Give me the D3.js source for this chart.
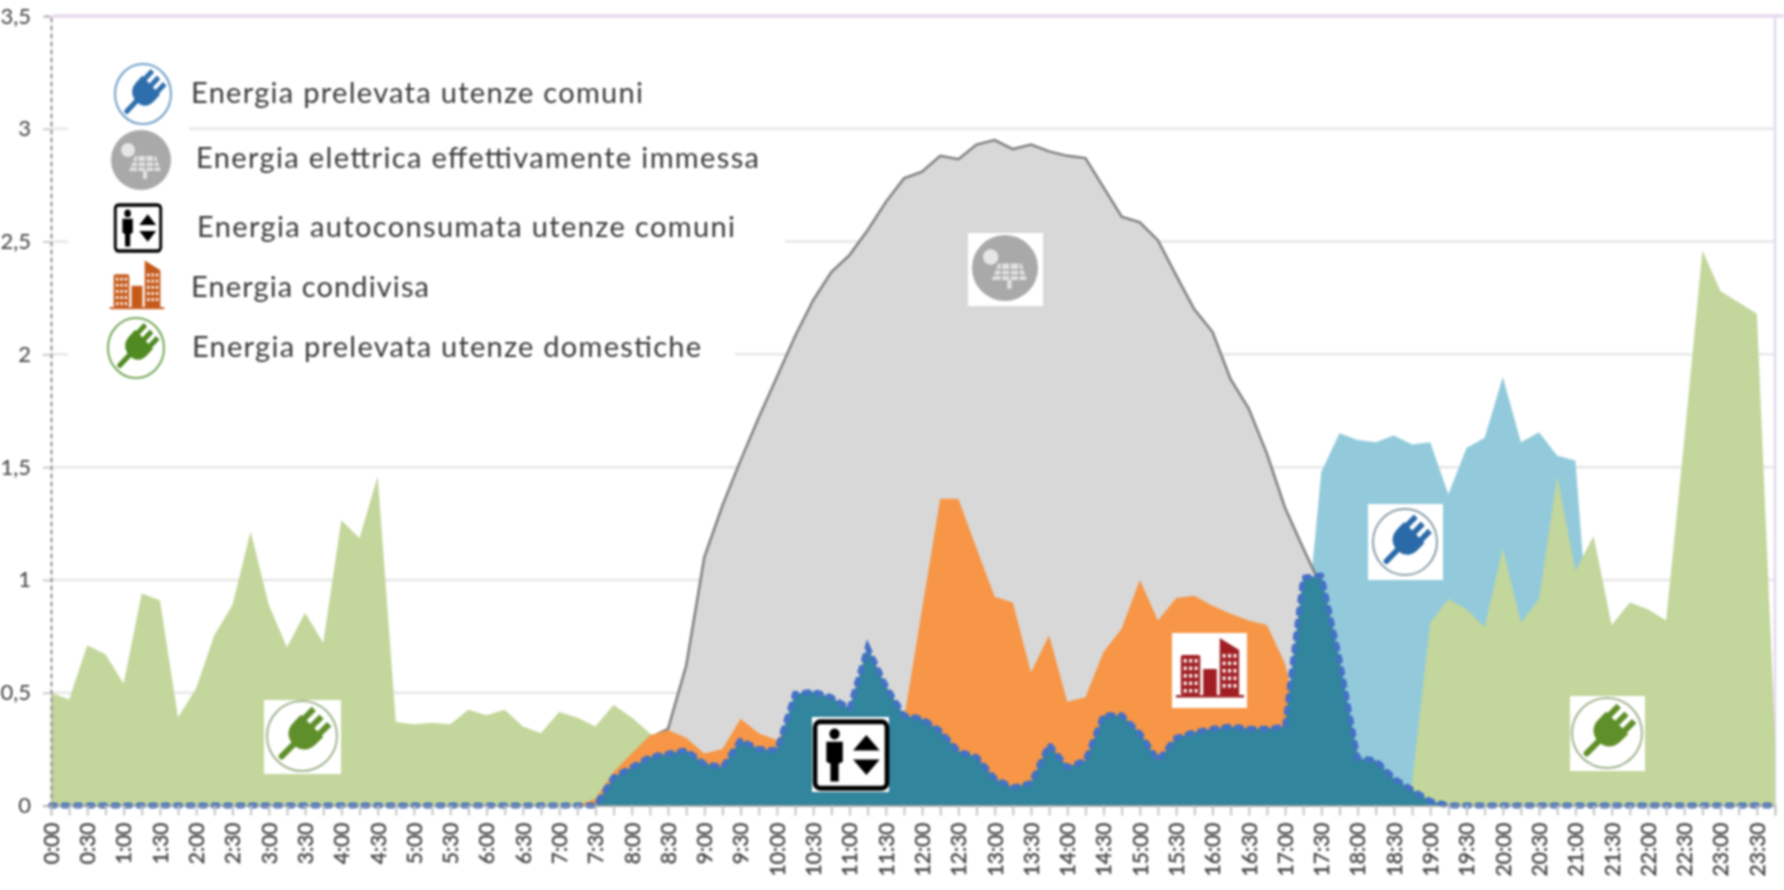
<!DOCTYPE html>
<html>
<head>
<meta charset="utf-8">
<script src="https://cdn.jsdelivr.net/npm/d3@7"></script>
<style>
  html, body { margin: 0; padding: 0; background: #fff; overflow: hidden; }
  svg { display: block; filter: blur(1px); }
  text { font-family: Lato, "Open Sans", sans-serif; }
</style>
</head>
<body>
<svg id="chart" width="1784" height="890"></svg>
<script>
// quarter hours, one label every two
const times = [
  "0:00","0:15","0:30","0:45","1:00","1:15","1:30","1:45","2:00","2:15","2:30","2:45",
  "3:00","3:15","3:30","3:45","4:00","4:15","4:30","4:45","5:00","5:15","5:30","5:45",
  "6:00","6:15","6:30","6:45","7:00","7:15","7:30","7:45","8:00","8:15","8:30","8:45",
  "9:00","9:15","9:30","9:45","10:00","10:15","10:30","10:45","11:00","11:15","11:30","11:45",
  "12:00","12:15","12:30","12:45","13:00","13:15","13:30","13:45","14:00","14:15","14:30","14:45",
  "15:00","15:15","15:30","15:45","16:00","16:15","16:30","16:45","17:00","17:15","17:30","17:45",
  "18:00","18:15","18:30","18:45","19:00","19:15","19:30","19:45","20:00","20:15","20:30","20:45",
  "21:00","21:15","21:30","21:45","22:00","22:15","22:30","22:45","23:00","23:15","23:30","23:45"
];
const yTicks = [0, 0.5, 1, 1.5, 2, 2.5, 3, 3.5];
const yLabels = ["0", "0,5", "1", "1,5", "2", "2,5", "3", "3,5"];

const comuni = [
  0,0,0,0,0,0,0,0,0,0,0,0,0,0,0,0,0,0,0,0,0,0,0,0,
  0,0,0,0,0,0,0,0,0,0,0,0,0,0,0,0,0,0,0,0,0,0,0,0,
  0,0,0,0,0,0,0,0,0,0,0,0,0,0,0,0,0,0,0,0,0,0.63,1.48,1.65,
  1.62,1.61,1.64,1.6,1.61,1.38,1.585,1.63,1.9,1.61,1.655,1.55,1.53,0.48,0,0,0,0,0,0,0,0,0,0
];
const domestiche = [
  0.5,0.47,0.71,0.67,0.54,0.94,0.91,0.39,0.52,0.755,0.89,1.215,
  0.89,0.7,0.855,0.72,1.265,1.185,1.46,0.37,0.36,0.367,0.36,0.425,
  0.4,0.425,0.35,0.32,0.415,0.39,0.35,0.445,0.39,0.32,0.28,0,0,0,0,0,
  0,0,0,0,0,0,0,0,0,0,0,0,0,0,0,0,0,0,0,0,0,0,0,0,
  0,0,0,0,0,0,0,0,0,0,0,0.1,0.81,0.915,0.87,0.79,1.14,0.81,0.915,1.46,
  1.04,1.195,0.8,0.9,0.87,0.82,1.62,2.46,2.28,2.23,2.18,0.3
];
const immessa = [
  0,0,0,0,0,0,0,0,0,0,0,0,0,0,0,0,0,0,0,0,0,0,0,0,
  0,0,0,0,0,0,0,0.1,0.2,0.3,0.34,0.62,1.1,1.33,1.53,1.72,1.9,2.08,2.24,2.365,2.44,2.55,2.675,2.78,
  2.81,2.88,2.865,2.93,2.95,2.91,2.93,2.9,2.88,2.87,2.74,2.61,2.585,2.505,2.35,2.2,2.1,1.89,1.76,1.56,1.32,1.14,0.97,0.6,
  0.2,0.1,0,0,0,0,0,0,0,0,0,0,0,0,0,0,0,0,0,0,0,0,0,0
];
const condivisa = [
  0,0,0,0,0,0,0,0,0,0,0,0,0,0,0,0,0,0,0,0,0,0,0,0,
  0,0,0,0,0,0,0.03,0.15,0.23,0.31,0.335,0.3,0.23,0.25,0.385,0.32,0.29,0.4,0.4,0.4,0.38,0.38,0.38,0.38,
  0.87,1.36,1.36,1.14,0.925,0.9,0.59,0.755,0.46,0.48,0.68,0.785,1,0.82,0.92,0.93,0.885,0.85,0.82,0.8,0.63,0.3,0,0,
  0,0,0,0,0,0,0,0,0,0,0,0,0,0,0,0,0,0,0,0,0,0,0,0
];
const autoconsumata = [
  0,0,0,0,0,0,0,0,0,0,0,0,0,0,0,0,0,0,0,0,0,0,0,0,
  0,0,0,0,0,0,0,0.125,0.17,0.215,0.23,0.245,0.185,0.17,0.29,0.25,0.245,0.495,0.505,0.48,0.43,0.7,0.53,0.4,
  0.385,0.33,0.24,0.215,0.12,0.08,0.1,0.27,0.17,0.2,0.4,0.4,0.32,0.2,0.3,0.325,0.34,0.35,0.34,0.34,0.35,1.01,1.02,0.65,
  0.21,0.2,0.12,0.07,0.02,0,0,0,0,0,0,0,0,0,0,0,0,0,0,0,0,0,0,0
];

const legendNames = [
  "Energia prelevata utenze comuni",
  "Energia elettrica effettivamente immessa",
  "Energia autoconsumata utenze comuni",
  "Energia condivisa",
  "Energia prelevata utenze domestiche"
];

const svg = d3.select("#chart");
const x = d3.scalePoint().domain(times).range([51, 1775]);
const y = d3.scaleLinear().domain([0, 3.5]).range([805.5, 16]);

// grid
svg.append("g").selectAll("line")
  .data(yTicks.slice(1, 7))
  .enter().append("line")
  .attr("x1", 52).attr("x2", 1775)
  .attr("y1", (d) => y(d)).attr("y2", (d) => y(d))
  .attr("stroke", "#e7e7e7").attr("stroke-width", 2.5);

// top and right border of the plot
svg.append("line").attr("x1", 52).attr("x2", 1784).attr("y1", y(3.5)).attr("y2", y(3.5))
  .attr("stroke", "#e4d6ec").attr("stroke-width", 3);
svg.append("line").attr("x1", 1775).attr("x2", 1775).attr("y1", y(3.5)).attr("y2", 806)
  .attr("stroke", "#e4d6ec").attr("stroke-width", 2.5);

// legend boxes hide the grid
svg.append("rect").attr("x", 68).attr("y", 60).attr("width", 121).attr("height", 320).attr("fill", "#fff");
svg.append("rect").attr("x", 189).attr("y", 205).attr("width", 596).attr("height", 50).attr("fill", "#fff");
svg.append("rect").attr("x", 189).attr("y", 330).attr("width", 546).attr("height", 40).attr("fill", "#fff");

const area = d3.area()
  .x((d, i) => x(times[i]))
  .y0(y(0))
  .y1((d) => y(d));
const line = d3.line()
  .x((d, i) => x(times[i]))
  .y((d) => y(d));
const grayLine = d3.line()
  .defined((d) => d > 0)
  .x((d, i) => x(times[i]))
  .y((d) => y(d));

svg.append("path").attr("d", area(comuni)).attr("fill", "#92cadc");
svg.append("path").attr("d", area(domestiche)).attr("fill", "#c3d69b");
svg.append("path").attr("d", area(immessa)).attr("fill", "#d8d8d8");
svg.append("path").attr("d", grayLine(immessa)).attr("fill", "none")
  .attr("stroke", "#7f7f7f").attr("stroke-width", 2.5);
svg.append("path").attr("d", area(condivisa)).attr("fill", "#f79646");
svg.append("path").attr("d", area(autoconsumata)).attr("fill", "#31859c");
svg.append("path").attr("d", line(autoconsumata)).attr("fill", "none")
  .attr("stroke", "#4472c4").attr("stroke-width", 6).attr("stroke-linecap", "round")
  .attr("stroke-dasharray", "4 8.5");

// axes
const xAxis = d3.axisBottom(x)
  .tickSize(10)
  .tickFormat((d, i) => (i % 2 === 0 ? d : ""));
const gx = svg.append("g").attr("transform", "translate(0," + y(0) + ")").call(xAxis);
gx.select(".domain").attr("stroke", "#9a9a9a").attr("stroke-width", 1.5);
gx.selectAll(".tick line").attr("stroke", "#c4c4c4").attr("stroke-width", 2);
gx.selectAll(".tick text")
  .attr("transform", "rotate(-90)")
  .attr("text-anchor", "end")
  .attr("x", -17).attr("y", 0).attr("dy", "0.35em")
  .attr("font-size", 21).attr("font-family", "Lato").attr("fill", "#404040")
  .attr("stroke", "#404040").attr("stroke-width", 0.4);

const yAxis = d3.axisLeft(y)
  .tickValues(yTicks)
  .tickSize(8)
  .tickFormat((d, i) => yLabels[i]);
const gy = svg.append("g").attr("transform", "translate(51,0)").call(yAxis);
gy.select(".domain").attr("stroke", "#8c8c8c").attr("stroke-width", 2).attr("stroke-dasharray", "5 3");
gy.selectAll(".tick line").attr("stroke", "#bdbdbd").attr("stroke-width", 1.5);
gy.selectAll(".tick text")
  .attr("x", -20)
  .attr("font-size", 22).attr("font-family", "Lato").attr("fill", "#404040");

// icons
function plug(cx, cy, rx, ry, color, ring) {
  const g = svg.append("g").attr("transform", "translate(" + cx + "," + cy + ")");
  g.append("ellipse").attr("rx", rx).attr("ry", ry).attr("fill", "#fff")
    .attr("stroke", ring).attr("stroke-width", 2);
  const p = g.append("g").attr("transform", "scale(" + rx / 29 + "," + ry / 29 + ") translate(2,-2) rotate(45)");
  p.append("rect").attr("x", -2.5).attr("y", 4).attr("width", 5).attr("height", 25).attr("rx", 2).attr("fill", color);
  p.append("path").attr("d", "M-13,-9 L13,-9 L13,-1 Q13,12 0,13 Q-13,12 -13,-1 Z").attr("fill", color);
  [-9, 0, 9].forEach((dx) => {
    p.append("rect").attr("x", dx - 2.5).attr("y", -20).attr("width", 5).attr("height", 12).attr("fill", color);
  });
}
function solar(cx, cy, r) {
  const g = svg.append("g").attr("transform", "translate(" + cx + "," + cy + ")");
  g.append("circle").attr("r", r).attr("fill", "#a9a9a9");
  const s = r / 30;
  g.append("circle").attr("cx", -13 * s).attr("cy", -10 * s).attr("r", 7 * s).attr("fill", "#e6e6e6");
  g.append("path").attr("d", "M" + -12 * s + "," + 11 * s + " L" + -6 * s + "," + -4 * s + " L" + 15 * s + "," + -4 * s + " L" + 20 * s + "," + 11 * s + " Z")
    .attr("fill", "#e2e2e2");
  d3.range(1, 3).forEach((k) => {
    g.append("rect").attr("x", -12 * s).attr("y", (-4 + k * 5) * s).attr("width", 32 * s).attr("height", 1.4 * s).attr("fill", "#a9a9a9");
  });
  d3.range(1, 4).forEach((k) => {
    g.append("rect").attr("x", (-12 + k * 8) * s).attr("y", -4 * s).attr("width", 1.4 * s).attr("height", 15 * s).attr("fill", "#a9a9a9");
  });
  g.append("rect").attr("x", 2 * s).attr("y", 11 * s).attr("width", 4 * s).attr("height", 8 * s).attr("fill", "#e2e2e2");
}
function elevator(cx, cy, w, h) {
  const g = svg.append("g").attr("transform", "translate(" + cx + "," + cy + ") scale(" + w / 74 + "," + h / 65 + ")");
  g.append("rect").attr("x", -35).attr("y", -30).attr("width", 70).attr("height", 60).attr("rx", 5)
    .attr("fill", "#fff").attr("stroke", "#000").attr("stroke-width", 4.5);
  g.append("circle").attr("cx", -16).attr("cy", -19).attr("r", 5).attr("fill", "#000");
  g.append("path").attr("d", "M-24,-12 L-8,-12 L-8,6 L-12,8 L-12,24 L-20,24 L-20,8 L-24,6 Z").attr("fill", "#000");
  g.append("path").attr("d", "M15,-18 L28,-4 L2,-4 Z").attr("fill", "#000");
  g.append("path").attr("d", "M15,18 L28,4 L2,4 Z").attr("fill", "#000");
}
function building(cx, cy, w, h, color) {
  const g = svg.append("g").attr("transform", "translate(" + cx + "," + cy + ") scale(" + w / 72 + "," + h / 66 + ")");
  g.append("rect").attr("x", -35).attr("y", 27).attr("width", 70).attr("height", 2.5).attr("fill", color);
  g.append("rect").attr("x", -30).attr("y", -13).attr("width", 20).attr("height", 40).attr("rx", 2).attr("fill", color);
  g.append("rect").attr("x", -7).attr("y", 1).attr("width", 14).attr("height", 26).attr("fill", color);
  g.append("path").attr("d", "M10,-30 L30,-18 L30,27 L10,27 Z").attr("fill", color);
  [[-30, -9], [10, -14]].forEach((o) => {
    d3.range(5).forEach((r) => {
      d3.range(3).forEach((c) => {
        g.append("rect").attr("x", o[0] + 3 + c * 5.6).attr("y", o[1] + r * 7.5)
          .attr("width", 3).attr("height", 3.6).attr("fill", "#fff");
      });
    });
  });
}
function whiteBox(x0, y0, x1, y1) {
  svg.append("rect").attr("x", x0).attr("y", y0).attr("width", x1 - x0).attr("height", y1 - y0).attr("fill", "#fff");
}

// legend
plug(143, 94, 28, 30, "#2f6ead", "#6f9fc9");
solar(141, 160, 30);
elevator(138, 228, 48, 50);
building(137, 285, 56, 54, "#c55a1a");
plug(136, 348, 28, 30, "#4f8a22", "#77a85a");

const legendX = [191, 196, 197, 191, 192];
const legendY = [103, 168, 237, 297, 357];
const legendW = [452, 563, 538, 238, 509];
legendNames.forEach((name, i) => {
  svg.append("text")
    .attr("x", legendX[i]).attr("y", legendY[i])
    .attr("font-size", 29)
    .attr("textLength", legendW[i])
    .attr("lengthAdjust", "spacing")
    .attr("fill", "#3a3a3a")
    .text(name);
});

// callouts inside the areas
whiteBox(968, 233, 1043, 306);
solar(1005, 268, 33);
whiteBox(264, 700, 341, 774);
plug(302, 736, 35, 35, "#5f8f2a", "#a0b590");
whiteBox(812, 717, 889, 792);
elevator(851, 755, 76, 72);
whiteBox(1172, 633, 1247, 708);
building(1210, 668, 70, 66, "#a11f24");
whiteBox(1368, 504, 1443, 580);
plug(1405, 542, 32, 33, "#2a6aa8", "#8a9ea8");
whiteBox(1570, 696, 1645, 771);
plug(1607, 733, 35, 35, "#5f8f2a", "#a0b590");
</script>
</body>
</html>
